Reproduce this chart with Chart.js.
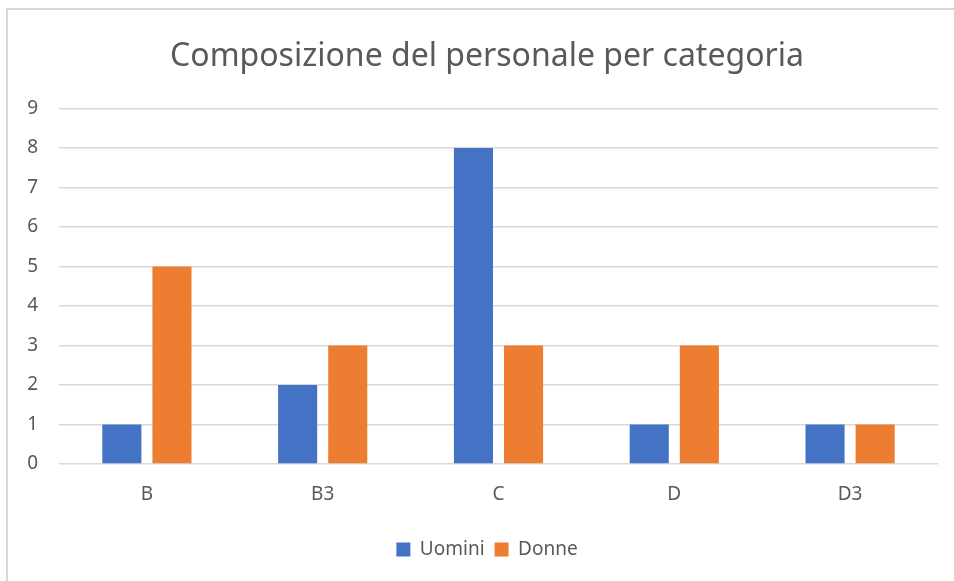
<!DOCTYPE html>
<html>
<head>
<meta charset="utf-8">
<script src="https://cdn.jsdelivr.net/npm/chart.js@4"></script>
<style>
  html, body { margin: 0; padding: 0; background: #fff; }
  #wrap { position: relative; width: 954px; height: 581px; overflow: hidden; }
  #frame { position: absolute; left: 6px; top: 8px; width: 1000px; height: 620px;
           border-top: 2px solid #d9d9d9; border-left: 2px solid #d9d9d9; }
  canvas { position: absolute; left: 0; top: 0; }
</style>
</head>
<body>
<div id="wrap">
  <div id="frame"></div>
  <!-- canvas runs a bit past the right edge so title and legend centre like the original -->
  <canvas id="c" width="990" height="581"></canvas>
</div>
<script>
// categorie e valori
const categories = ['B', 'B3', 'C', 'D', 'D3'];
const uomini = [1, 2, 8, 1, 1];
const donne  = [5, 3, 3, 3, 1];
const yMax = 9;

const FONT = "'Noto Sans', sans-serif";
const GREY = '#595959';

new Chart(document.getElementById('c'), {
  type: 'bar',
  data: {
    labels: categories,
    datasets: [
      { label: 'Uomini', data: uomini, backgroundColor: '#4472C4',
        categoryPercentage: 0.57, barPercentage: 0.78 },
      { label: 'Donne', data: donne, backgroundColor: '#ED7D31',
        categoryPercentage: 0.57, barPercentage: 0.78 },
    ]
  },
  options: {
    responsive: false,
    animation: false,
    layout: { padding: { left: 0, right: 16, top: 0, bottom: 12 } },
    plugins: {
      title: {
        display: true,
        text: 'Composizione del personale per categoria',
        color: GREY,
        font: { family: FONT, size: 32, weight: 'normal' },
        padding: { top: 38, bottom: 32 }
      },
      legend: {
        position: 'bottom',
        labels: {
          color: GREY, boxWidth: 14, boxHeight: 14, padding: 10,
          font: { family: FONT, size: 19 }
        }
      },
      tooltip: { enabled: false }
    },
    scales: {
      x: {
        grid: { display: false, drawTicks: false },
        border: { display: false },
        ticks: { color: GREY, font: { family: FONT, size: 19 }, padding: 19 },
        afterFit: s => { s.height = 66; }
      },
      y: {
        min: 0, max: yMax,
        grid: { color: '#d9d9d9', lineWidth: 1.5, drawTicks: false },
        border: { display: false },
        ticks: { stepSize: 1, color: GREY, font: { family: FONT, size: 19 }, padding: 21 },
        afterFit: s => { s.width = 59; }
      },
      // empty spacer on the right, only takes room
      spacer: {
        type: 'linear', position: 'right',
        grid: { display: false, drawTicks: false },
        border: { display: false },
        ticks: { display: false },
        afterFit: s => { s.width = 36; }
      }
    }
  }
});
</script>
</body>
</html>
